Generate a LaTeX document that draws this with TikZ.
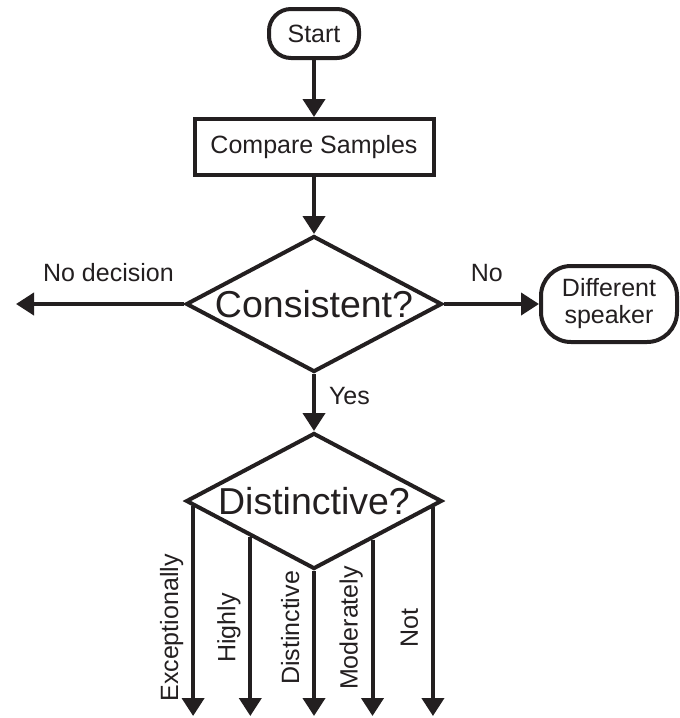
\documentclass[tikz,border=0pt]{standalone}
\usepackage{fontspec}
\setmainfont{Liberation Sans}
\usetikzlibrary{arrows.meta,chains,positioning,shapes.geometric,calc}
\definecolor{ink}{HTML}{231F20}

\begin{document}
\begin{tikzpicture}[
  x=1pt,y=1pt,
  color=ink,
  line width=4pt,
  node distance=57pt,
  start chain=main going below,
  flow/.style={-{Triangle[length=18pt,width=22pt]}},
  every join/.style={flow},
  terminal/.style={draw,rounded corners=22pt,minimum width=90pt,minimum height=49pt,align=center,font=\fontsize{25pt}{27pt}\selectfont},
  block/.style={draw,minimum width=239pt,minimum height=56pt,font=\fontsize{25pt}{27pt}\selectfont},
  decision/.style={draw,diamond,aspect=1.85,inner sep=0pt,minimum width=256pt,minimum height=136pt,font=\fontsize{37.5pt}{40pt}\selectfont},
  branch/.style={inner sep=0pt,font=\fontsize{25pt}{27pt}\selectfont},
  outcome/.style={branch,rotate=90,anchor=base}
]
  \useasboundingbox (0,0) rectangle (680,-718);

  \node[terminal,on chain=main] (start) at (314,-33.5) {Start};
  \node[block,on chain=main,join] (compare) {Compare Samples};
  \node[decision,on chain=main,join] (consistent) {Consistent?};
  \node[decision,on chain=main] (distinctive) {Distinctive?};

  \node[terminal,right=95pt of consistent,minimum width=136pt,minimum height=76pt,rounded corners=30pt] (different) {Different\\speaker};
  \coordinate[left=168pt of consistent] (undecided);
  \coordinate (floor) at (0,-716);
  \coordinate (row) at (0,-628);

  \path[flow]
    (consistent) edge node[branch,pos=0.45,anchor=base,yshift=23pt] (no-tag) {No} (different)
    (consistent) edge node[branch,pos=0.45,anchor=base,yshift=23pt] (undecided-tag) {No decision} (undecided)
    (consistent) edge node[branch,pos=0.54,anchor=base west,xshift=13pt] (yes-tag) {Yes} (distinctive);

  \foreach \from/\share/\to/\name in {west/0.07/south/Exceptionally,west/0.51/south/Highly,west/1/south/Distinctive,south/0.45/east/Moderately,south/0.915/east/Not}{
    \coordinate (leg) at ($(distinctive.\from)!\share!(distinctive.\to)$);
    \draw[flow] (leg) -- (leg |- floor);
    \node[outcome] (\name-tag) at ([xshift=-15pt]leg |- row) {\name};
  }
\end{tikzpicture}
\end{document}
